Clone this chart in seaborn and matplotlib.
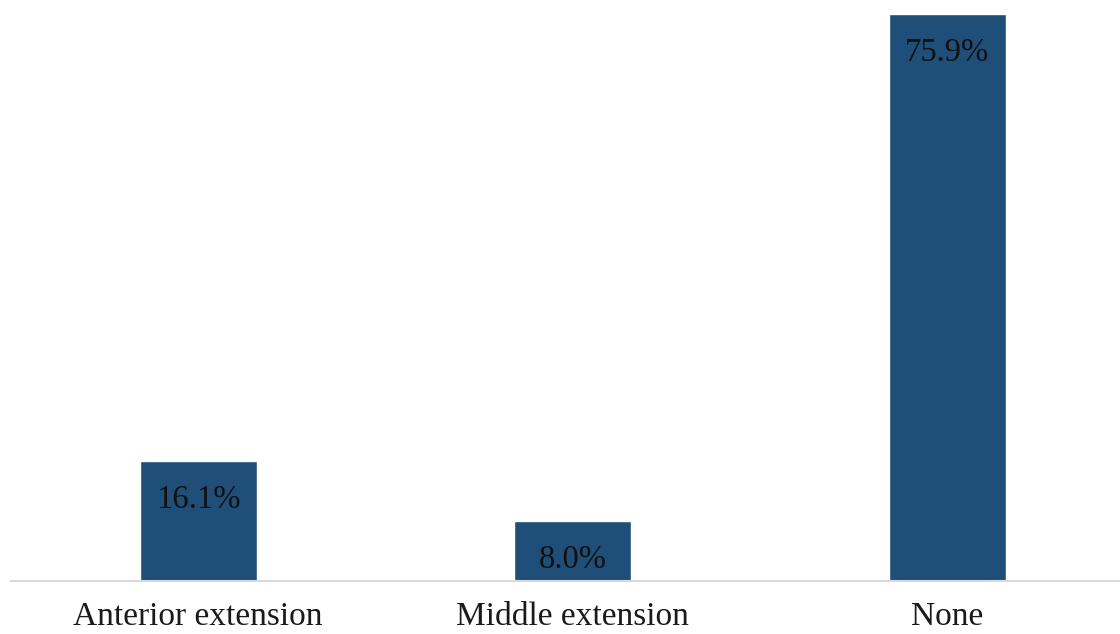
import matplotlib
matplotlib.use("Agg")
import matplotlib.pyplot as plt
import seaborn as sns
import pandas as pd

categories = ["Anterior extension", "Middle extension", "None"]
values = [16.1, 8.0, 75.9]
labels = ["16.1%", "8.0%", "75.9%"]

sns.set_theme(style="white")
plt.rcParams["font.family"] = ["Liberation Serif", "DejaVu Serif"]

df = pd.DataFrame({"category": categories, "value": values})

fig = plt.figure(figsize=(11.2, 6.34), dpi=100)
ax = fig.add_axes([0.0098, 0.0836, 0.9902, 0.9164])
sns.barplot(data=df, x="category", y="value", color="#1f4e79", saturation=1,
            width=0.3125, ax=ax)

ax.set_xlim(-0.5, 2.462)
ax.set_ylim(0, 77.78)
for s in ["top", "right", "left"]:
    ax.spines[s].set_visible(False)
ax.spines["bottom"].set_color("#d9d9d9")
ax.spines["bottom"].set_linewidth(1.5)
ax.set_yticks([])
ax.set_xlabel("")
ax.set_ylabel("")
ax.tick_params(axis="x", length=0, pad=15, labelsize=24, labelcolor="#1a1a1a")

for i, (v, lab) in enumerate(zip(values, labels)):
    ax.annotate(lab, xy=(i, v), xytext=(0, -28), textcoords="offset points",
                ha="center", va="center", fontsize=23.5, color="#111111")

fig.savefig("out.png", dpi=100)
